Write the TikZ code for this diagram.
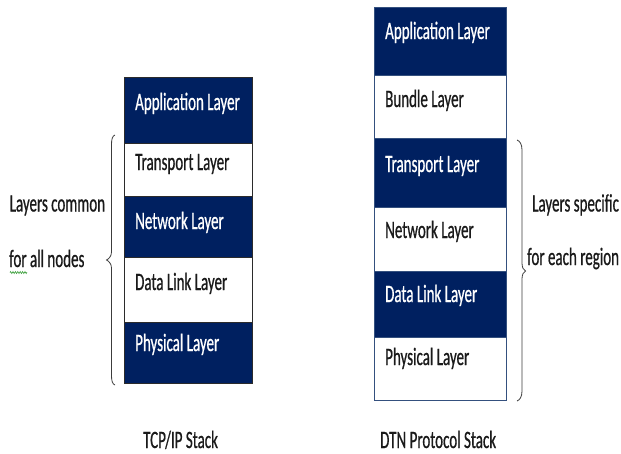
\documentclass[tikz,border=0pt]{standalone}
\usepackage{fontspec}
\setmainfont[FakeStretch=0.6, FakeBold=0.6]{Carlito}
\usetikzlibrary{decorations.pathmorphing}
\definecolor{navy}{HTML}{002060}
\definecolor{ink}{HTML}{1A1A1A}
\definecolor{edgeL}{HTML}{2B2B2B}
\definecolor{edgeR}{HTML}{34507E}
\definecolor{bracecol}{HTML}{3C3C3C}
\definecolor{squiggle}{HTML}{3DA03D}
\tikzset{
  layerbox/.style={rectangle, inner sep=0pt, line width=0.8pt},
  darkbox/.style={layerbox, fill=navy},
  lightbox/.style={layerbox, fill=white},
  txt/.style={anchor=base west, inner sep=0pt, font=\fontsize{25}{30}\selectfont},
  intxt/.style={txt, text=white},
  outtxt/.style={txt, text=ink},
  bracket/.style={draw=bracecol, line width=0.8pt}
}
\begin{document}
\begin{tikzpicture}[x=1pt, y=-1pt]
\useasboundingbox[fill=white] (0,0) rectangle (621,453);

% ---- TCP/IP stack (x 124..252) ----
\begin{scope}[every node/.append style={draw=edgeL, minimum width=128pt}]
\node[darkbox,  minimum height=66pt] (tapp)  at (188,110)   {};
\node[lightbox, minimum height=53pt] (ttra)  at (188,169.5) {};
\node[darkbox,  minimum height=61pt] (tnet)  at (188,226.5) {};
\node[lightbox, minimum height=65pt] (tlink) at (188,289.5) {};
\node[darkbox,  minimum height=61pt] (tphy)  at (188,352.5) {};
\end{scope}
\node[intxt]  (tappT)  at (135,110) {Application Layer};
\node[outtxt] (ttraT)  at (135,170) {Transport Layer};
\node[intxt]  (tnetT)  at (135,229) {Network Layer};
\node[outtxt] (tlinkT) at (135,290) {Data Link Layer};
\node[intxt]  (tphyT)  at (135,351) {Physical Layer};

% ---- DTN protocol stack (x 374..506.5) ----
\begin{scope}[every node/.append style={draw=edgeR, minimum width=132.5pt}]
\node[darkbox,  minimum height=68pt] (dapp)  at (440.25,41)   {};
\node[lightbox, minimum height=63pt] (dbun)  at (440.25,106.5) {};
\node[darkbox,  minimum height=69pt] (dtra)  at (440.25,172.5) {};
\node[lightbox, minimum height=64pt] (dnet)  at (440.25,239)   {};
\node[darkbox,  minimum height=66pt] (dlink) at (440.25,304)   {};
\node[lightbox, minimum height=63pt] (dphy)  at (440.25,368.5) {};
\end{scope}
\node[intxt]  (dappT)  at (385,39)  {Application Layer};
\node[outtxt] (dbunT)  at (385,107) {Bundle Layer};
\node[intxt]  (dtraT)  at (385,172) {Transport Layer};
\node[outtxt] (dnetT)  at (385,238) {Network Layer};
\node[intxt]  (dlinkT) at (385,302) {Data Link Layer};
\node[outtxt] (dphyT)  at (385,365) {Physical Layer};

% ---- braces ----
\coordinate (lbTop) at (115,135);
\coordinate (lbTip) at (106.5,260);
\coordinate (lbBot) at (115,385);
\draw[bracket] (lbTop) .. controls (112.3,136) and (111.5,139) .. (111.5,145)
  -- (111.5,252) .. controls (111.5,256.5) and (108.5,259) .. (lbTip)
  .. controls (108.5,261) and (111.5,263.5) .. (111.5,268)
  -- (111.5,375) .. controls (111.5,381) and (112.3,384) .. (lbBot);

\coordinate (rbTop) at (517,140);
\coordinate (rbTip) at (525.5,271);
\coordinate (rbBot) at (517,401);
\draw[bracket] (rbTop) .. controls (519.7,141) and (522,144) .. (522,150)
  -- (522,263) .. controls (522,267.5) and (523.5,270) .. (rbTip)
  .. controls (523.5,272) and (522,274.5) .. (522,279)
  -- (522,391) .. controls (522,397) and (519.7,400) .. (rbBot);

% ---- side notes ----
\node[outtxt] (commonA) at (9.5,211.5) {Layers common};
\node[outtxt] (commonB) at (9,267)     {for all nodes};
\coordinate (sqA) at (10,272.5);
\coordinate (sqB) at (27,272.5);
\draw[squiggle, line width=0.6pt, decorate,
      decoration={zigzag, segment length=2.4pt, amplitude=1pt}] (sqA) -- (sqB);

\node[outtxt] (specA) at (532,211.5) {Layers specific};
\node[outtxt] (specB) at (527,265)   {for each region};

% ---- captions ----
\node[outtxt] (capT) at (143,448) {TCP/IP Stack};
\node[outtxt] (capD) at (380,448) {DTN Protocol Stack};
\end{tikzpicture}
\end{document}
